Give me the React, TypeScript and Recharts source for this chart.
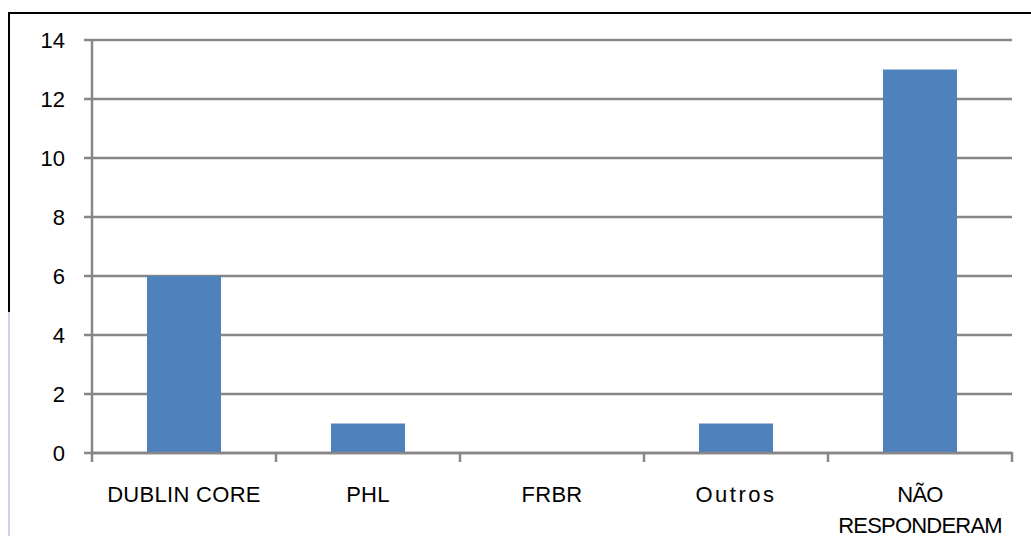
import React from "react";
import { BarChart, Bar, XAxis, YAxis, CartesianGrid } from "recharts";

const categories = ["DUBLIN CORE", "PHL", "FRBR", "Outros", "NÃO\nRESPONDERAM"];
const values = [6, 1, 0, 1, 13];
const yTicks = [0, 2, 4, 6, 8, 10, 12, 14];

const data = categories.map((c, i) => ({ name: c, value: values[i] }));

const FONT = "'Liberation Sans', Arial, Helvetica, sans-serif";
const GRID = "#878787";

const XTick = (props: any) => {
  const { x, y, payload, index, visibleTicksCount } = props;
  const half = payload.offset ?? 0;
  const lines = String(payload.value).split("\n");
  const spacing = payload.value === "Outros" ? 2.5 : lines.length > 1 ? -0.8 : 0.3;
  const isLast = index === visibleTicksCount - 1;
  return (
    <g>
      <line x1={x - half} x2={x - half} y1={y} y2={y + 9} stroke={GRID} strokeWidth={2.5} />
      {isLast && (
        <line x1={x + half} x2={x + half} y1={y - 1} y2={y + 9} stroke={GRID} strokeWidth={2.5} />
      )}
      {lines.map((l: string, i: number) => (
        <text
          key={i}
          x={x}
          y={y + 49 + i * 31}
          textAnchor="middle"
          fontFamily={FONT}
          fontSize={22}
          fill="#000"
          letterSpacing={spacing}
        >
          {l}
        </text>
      ))}
    </g>
  );
};

export default function App() {
  return (
    <div style={{ position: "absolute", left: 0, top: 0, width: 1031, height: 536, background: "#fff", overflow: "hidden" }}>
      <div style={{ position: "absolute", left: 9, top: 12, width: 1022, height: 2, background: "#000" }} />
      <div style={{ position: "absolute", left: 8, top: 12, width: 2, height: 300, background: "#000" }} />
      <div style={{ position: "absolute", left: 8, top: 312, width: 2, height: 224, background: "#c9d5e6" }} />
      <div style={{ position: "absolute", left: 0, top: 0 }}>
        <BarChart
          width={1031}
          height={536}
          data={data}
          margin={{ top: 40, right: 19, left: 0, bottom: 0 }}
          barSize={74}
        >
          <CartesianGrid vertical={false} stroke={GRID} strokeWidth={2.5} />
          <XAxis
            dataKey="name"
            type="category"
            height={83}
            axisLine={{ stroke: GRID, strokeWidth: 2.5 }}
            tickLine={false}
            tickSize={0}
            tickMargin={0}
            interval={0}
            tick={<XTick />}
          />
          <YAxis
            width={92}
            domain={[0, 14]}
            ticks={yTicks}
            interval={0}
            tickSize={8}
            tickMargin={19}
            axisLine={{ stroke: GRID, strokeWidth: 2.5 }}
            tickLine={{ stroke: GRID, strokeWidth: 2.5 }}
            tick={{ fontFamily: FONT, fontSize: 22, fill: "#000" }}
          />
          <Bar dataKey="value" fill="#4f81bd" isAnimationActive={false} />
        </BarChart>
      </div>
    </div>
  );
}
